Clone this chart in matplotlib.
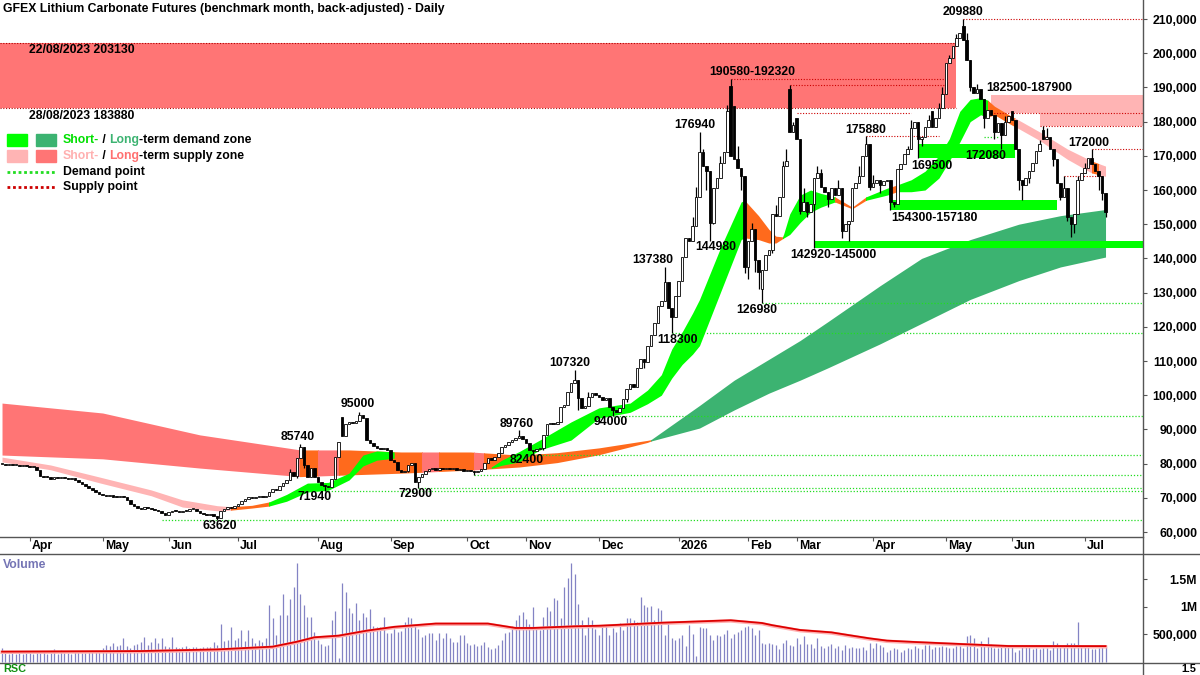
import matplotlib.pyplot as plt
from matplotlib.lines import Line2D
from matplotlib.patches import Rectangle
from matplotlib.ticker import FixedLocator, FuncFormatter

plt.rcParams['font.family'] = ['Liberation Sans', 'DejaVu Sans']
plt.rcParams['font.weight'] = 'bold'

TITLE = "GFEX Lithium Carbonate Futures (benchmark month, back-adjusted) - Daily"

# ---- data: prices in thousand yuan/t, one entry per trading day ----
month_labels = ['Apr', 'May', 'Jun', 'Jul', 'Aug', 'Sep', 'Oct', 'Nov', 'Dec',
                '2026', 'Feb', 'Mar', 'Apr', 'May', 'Jun', 'Jul']
# trading days per month (first entry = end of March 2025)
month_days = [8, 21, 19, 20, 23, 21, 22, 17, 21, 23, 20, 14, 22, 21, 19, 21, 7]

closes = [
    # Mar 2025
    80.0, 79.6, 79.8, 79.5, 79.7, 79.4, 79.6, 79.2,
    # Apr
    79.0, 79.1, 78.0, 76.4, 76.2, 76.0, 75.6, 76.1, 75.9, 76.2, 75.8, 75.6,
    75.9, 75.2, 74.6, 74.0, 73.4, 72.8, 72.4, 71.8, 71.2,
    # May
    70.8, 70.5, 70.9, 70.3, 70.1, 70.6, 70.2, 69.5, 68.2, 67.5, 67.0, 66.8,
    67.4, 67.0, 66.6, 66.3, 66.0, 65.6, 65.0,
    # Jun
    65.8, 66.2, 66.0, 65.8, 66.1, 66.0, 66.6, 66.8, 66.0, 65.6, 65.3, 65.1,
    65.4, 64.8, 64.2, 66.2, 66.8, 67.2, 67.0, 67.6,
    # Jul
    68.3, 69.0, 69.6, 70.2, 69.9, 70.3, 70.5, 70.2, 70.6, 71.6, 72.6, 72.2,
    73.5, 74.4, 75.2, 77.5, 76.5, 81.5, 85.0, 79.5, 76.0, 78.6, 76.2,
    # Aug
    74.5, 73.8, 73.5, 73.2, 75.5, 81.8, 86.3, 88.2, 91.5, 92.2, 91.8, 92.5,
    94.3, 93.4, 87.0, 86.0, 85.2, 84.6, 84.2, 84.6, 84.0,
    # Sep
    81.0, 80.6, 78.0, 77.6, 77.8, 79.6, 80.2, 74.5, 76.2, 77.0, 77.8, 78.4,
    78.8, 78.2, 78.6, 78.3, 78.8, 78.4, 78.7, 78.2, 78.5, 77.9,
    # Oct
    78.2, 77.8, 77.4, 77.9, 78.5, 80.2, 81.5, 81.2, 81.8, 83.0, 84.8, 85.4,
    86.2, 86.9, 87.5, 88.0, 87.2,
    # Nov
    86.0, 84.0, 83.6, 84.2, 84.6, 88.5, 91.5, 91.8, 91.6, 92.3, 96.5, 97.0,
    101.0, 103.5, 104.5, 99.2, 96.2, 96.8, 99.5, 100.5, 100.0,
    # Dec
    99.6, 98.5, 99.2, 96.6, 95.6, 95.2, 96.2, 99.0, 101.8, 103.4, 102.4, 108.0,
    110.5, 109.6, 114.5, 117.5, 121.0, 126.0, 127.5, 133.0, 125.5, 123.0, 129.0,
    # Jan 2026
    133.5, 140.5, 146.0, 145.0, 149.5, 158.0, 171.0, 167.0, 165.5, 150.5,
    160.5, 163.5, 168.0, 171.0, 183.0, 170.0, 169.0, 166.5, 164.0, 137.5,
    # Feb
    145.0, 148.5, 139.5, 136.0, 136.5, 141.0, 142.5, 153.0, 152.5, 158.0,
    167.0, 168.5, 177.0, 179.0,
    # Mar
    175.0, 154.0, 156.5, 153.5, 156.0, 163.5, 165.0, 161.0, 159.5, 157.5,
    160.5, 158.5, 160.5, 148.0, 150.0, 151.0, 160.5, 162.0, 164.0, 170.0,
    173.5, 161.0,
    # Apr
    162.0, 163.0, 161.5, 162.5, 163.0, 156.5, 156.0, 166.0, 167.5, 170.5,
    172.0, 178.0, 180.0, 175.0, 175.5, 178.5, 180.5, 178.5, 181.0, 184.0, 188.0,
    # May
    197.0, 198.5, 202.0, 204.5, 206.0, 204.0, 198.0, 190.0, 188.5, 189.5,
    186.5, 181.0, 183.5, 182.0, 177.0, 179.5, 176.0, 180.0, 181.5,
    # Jun
    180.5, 172.0, 163.0, 161.5, 163.5, 165.5, 168.0, 171.5, 173.5, 175.0,
    175.5, 172.0, 169.0, 162.0, 158.0, 160.5, 152.0, 150.0, 153.0, 163.0, 165.0,
    # Jul
    166.5, 169.5, 167.5, 165.5, 164.0, 159.0, 153.5,
]

# opens that gap away from the previous close
gap_opens = {98: 93.6, 210: 190.5, 211: 184.5, 219: 131.0, 227: 189.5,
             229: 181.0, 268: 183.0, 277: 208.0, 291: 183.0, 300: 177.5}
# wick ends (bars not listed have no visible wick)
highs = {83: 78.5, 86: 85.74, 103: 95.0, 105: 90.7, 114: 80.2, 149: 89.76,
         165: 107.32, 169: 101.0, 191: 137.38, 199: 152.0, 200: 161.0,
         201: 176.94, 202: 172.0, 207: 170.0, 209: 185.0, 210: 192.32,
         212: 173.0, 216: 150.5, 223: 155.5, 225: 168.5, 226: 172.0,
         227: 190.58, 228: 180.0, 231: 160.5, 235: 167.0, 236: 166.0,
         241: 163.0, 247: 167.0, 249: 175.88, 251: 164.5, 261: 173.0,
         262: 180.5, 267: 182.0, 270: 185.5, 271: 190.0, 273: 199.5,
         275: 205.5, 277: 209.88, 278: 206.0, 281: 191.0, 289: 181.5,
         292: 175.0, 299: 174.6, 300: 178.7, 301: 178.0, 306: 164.0,
         310: 164.0, 312: 168.0, 314: 172.0}
lows = {62: 63.62, 85: 75.8, 87: 78.7, 93: 71.94, 96: 77.2, 99: 89.0,
        117: 77.5, 120: 72.9, 136: 76.8, 144: 83.0, 153: 82.4, 156: 84.0,
        161: 92.5, 163: 97.5, 166: 95.7, 176: 94.0, 180: 98.0, 185: 108.0,
        189: 121.0, 193: 118.3, 196: 137.0, 200: 154.0, 203: 160.0,
        204: 144.98, 205: 150.0, 209: 176.0, 213: 160.0, 214: 135.7,
        215: 134.0, 217: 136.0, 218: 131.0, 219: 126.98, 220: 138.0,
        222: 141.6, 225: 160.0, 230: 153.0, 232: 152.0, 234: 142.92,
        238: 155.0, 242: 146.0, 244: 145.0, 245: 156.0, 250: 160.0,
        253: 159.0, 256: 154.3, 257: 155.0, 258: 156.0, 264: 169.5,
        265: 173.0, 272: 189.0, 279: 189.0, 283: 178.0, 286: 175.0,
        288: 172.08, 293: 160.0, 294: 157.0, 296: 162.0, 303: 167.0,
        305: 157.0, 307: 151.0, 308: 146.3, 309: 147.4, 316: 160.0,
        317: 157.0, 318: 152.0}

# volume in thousand lots
volume = [
    250, 150, 145, 150, 140, 150, 135, 150,
    160, 140, 175, 150, 165, 140, 150, 220, 145, 215, 160, 150, 145, 165,
    170, 150, 160, 165, 175, 180, 170,
    240, 300, 290, 330, 280, 300, 420, 280, 240, 300, 310, 360, 450, 300,
    360, 420, 330, 420, 280,
    260, 440, 270, 240, 260, 280, 250, 260, 270, 250, 260, 265, 270, 360,
    300, 690, 380, 390, 630, 400,
    420, 570, 380, 570, 420, 330, 390, 360, 420, 1030, 785, 480, 845, 1230,
    850, 1140, 1350, 1785, 1230, 1030, 815, 815, 540,
    390, 320, 290, 300, 750, 920, 60, 1420, 1270, 970, 890, 1060, 750, 875,
    815, 950, 645, 630, 630, 815, 520,
    510, 600, 540, 560, 725, 815, 800, 690, 600, 450, 480, 510, 510, 390,
    510, 420, 510, 420, 360, 360, 480, 480,
    330, 300, 320, 280, 300, 360, 270, 220, 240, 300, 390, 510, 540, 645,
    750, 845, 900,
    770, 690, 985, 630, 570, 815, 1000, 925, 1150, 1120, 785, 1360, 1510,
    1785, 1600, 1040, 750, 480, 815, 750, 600,
    482, 664, 664, 482, 603, 542, 694, 573, 785, 785, 754, 724, 1179, 1027,
    985, 1009, 754, 967, 936, 482, 694, 421, 391,
    421, 482, 282, 664, 494, 100, 621, 615, 603, 482, 391, 482, 464, 500,
    573, 421, 494, 542, 573, 633,
    645, 603, 482, 573, 330, 312, 342, 312, 300, 221, 330, 391, 300, 282,
    421, 318, 464, 312, 312, 251, 421, 282, 251, 282, 312, 239, 282, 209,
    300, 239, 270, 239, 239, 270, 209, 342,
    240, 330, 300, 270, 180, 209, 239, 220, 179, 209, 239, 220, 282, 239,
    225, 300, 300, 220, 270, 270, 282,
    270, 250, 240, 282, 282, 239, 465, 482, 421, 239, 373, 300, 440, 312,
    239, 239, 282, 270, 270,
    270, 180, 210, 280, 270, 280, 220, 240, 220, 240, 240, 210, 375, 340,
    280, 280, 340, 340, 330, 725, 300,
    290, 270, 230, 220, 250, 260, 280,
]
# volume moving average, read at (bar, value)
vol_ma = [(0, 180), (40, 190), (62, 220), (78, 270), (85, 360), (90, 440),
          (97, 470), (105, 560), (113, 630), (125, 690), (140, 690),
          (148, 610), (153, 610), (165, 640), (172, 650), (190, 705),
          (210, 750), (219, 700), (222, 660), (230, 573), (239, 530),
          (244, 480), (250, 421), (255, 380), (263, 355), (272, 330),
          (283, 300), (290, 282), (318, 280)]

# short-term band edges (bar, top, bottom), two pieces
short_band_a = [(0, 81.9, 80.5), (14, 79.6, 78.2), (28, 76.1, 74.4),
                (43, 72.3, 70.6), (52, 69.4, 67.3), (62, 67.7, 66.2),
                (66, 67.4, 66.4), (72, 67.8, 67.0), (77, 68.8, 67.6),
                (82, 71.0, 69.0), (88, 74.3, 71.7), (94, 74.5, 72.2),
                (100, 77.2, 75.2), (104, 82.5, 79.3), (108, 83.7, 81.0),
                (113, 83.4, 81.6)]
short_band_b = [(141, 79.0, 78.6), (144, 81.0, 79.5), (149, 83.5, 80.5),
                (155, 86.9, 84.0), (164, 92.2, 86.9), (172, 96.3, 93.3),
                (181, 97.7, 95.0), (186, 101.5, 97.5), (190, 106.0, 100.0),
                (193, 113.5, 105.0), (196, 118.5, 109.0), (199, 124.0, 112.0),
                (201, 128.0, 114.5), (207, 143.0, 130.0), (213, 156.5, 145.5),
                (214, 157.0, 146.0), (218, 152.5, 145.5), (221, 148.5, 144.5),
                (223, 146.5, 144.5), (225, 146.3, 145.8), (227, 153.0, 147.0),
                (230, 158.5, 150.5), (233, 160.0, 153.5), (236, 159.0, 155.0),
                (240, 158.0, 156.5), (245, 155.0, 154.5), (249, 158.0, 157.0),
                (255, 160.5, 158.5), (258, 161.5, 159.5), (262, 163.0, 159.5),
                (266, 165.5, 160.0), (270, 170.0, 163.5), (273, 175.0, 168.5),
                (276, 183.0, 174.0), (279, 186.5, 180.0), (282, 187.0, 182.0),
                (284, 186.3, 181.3), (286, 184.5, 182.0), (291, 181.5, 179.0),
                (292, 181.0, 178.5), (299, 177.0, 174.5), (307, 172.0, 169.0),
                (314, 168.5, 165.0), (318, 167.0, 164.0)]
short_colours_a = [(0, 66, 'pink'), (66, 77, 'orange'), (77, 113, 'green')]
short_colours_b = [(141, 214, 'green'), (214, 225, 'orange'),
                   (225, 240, 'green'), (240, 249, 'orange'),
                   (249, 256, 'green'), (256, 258, 'orange'),
                   (258, 284, 'green'), (284, 292, 'orange'),
                   (292, 314, 'pink'), (314, 316, 'orange'), (316, 318, 'pink')]

# long-term band edges (bar, top, bottom)
long_band = [(0, 97.7, 82.5), (29, 94.8, 81.4), (57, 88.4, 78.7),
             (86, 84.0, 76.2), (100, 84.0, 76.7), (115, 83.4, 77.2),
             (135, 83.4, 78.1), (149, 82.5, 79.0), (160, 83.2, 80.3),
             (172, 84.6, 82.6), (186, 86.8, 86.2), (187, 87.0, 86.6),
             (201, 97.0, 90.4), (211, 104.4, 95.7), (221, 110.5, 100.6),
             (230, 116.0, 104.4), (238, 121.5, 108.0), (253, 132.0, 115.0),
             (265, 140.0, 121.0), (279, 145.5, 128.0), (293, 150.0, 133.5),
             (305, 152.5, 137.5), (318, 154.3, 140.4)]
long_colours = [(0, 86, 'red'), (86, 91, 'orange'), (91, 97, 'red'),
                (97, 121, 'orange'), (121, 126, 'red'), (126, 136, 'orange'),
                (136, 139, 'red'), (139, 187, 'orange'), (187, 318, 'dkgreen')]

# supply / demand zones (start bar, end bar or None, low, high)
long_supply_zone = (None, 275, 183.88, 203.13)
short_supply_zones = [(285, None, 182.5, 187.9), (299, None, 178.7, 182.5)]
demand_zones = [(234, None, 142.92, 145.0), (256, 304, 154.3, 157.18),
                (264, 292, 169.5, 173.6)]
demand_points = [(46, None, 63.62), (93, None, 71.94), (120, None, 72.9),
                 (136, None, 76.8), (153, None, 82.4), (176, None, 94.0),
                 (193, None, 118.3), (219, None, 126.98), (283, 287, 175.6)]
supply_points = [(277, None, 209.88), (210, 272, 192.32), (227, 272, 190.58),
                 (229, 262, 182.5), (249, 270, 175.88), (314, None, 172.0),
                 (306, 317, 164.1), (285, None, 182.5), (299, None, 178.7)]

# labels: text, bar, price, text offset in pixels
labels = [("209880", 277, 209.88, 0, 7), ("190580-192320", 210, 192.32, 22, 7),
          ("182500-187900", 285, 187.9, 38, 7), ("176940", 201, 176.94, -5, 7),
          ("175880", 249, 175.88, 0, 6), ("172000", 314, 172.0, -3, 6),
          ("169500", 264, 169.5, 14, -8), ("172080", 288, 172.08, -16, -7),
          ("154300-157180", 256, 154.3, 44, -8),
          ("142920-145000", 234, 142.92, 19, -7), ("144980", 204, 144.98, 6, -6),
          ("137380", 191, 137.38, -12, 7), ("126980", 219, 126.98, -5, -7),
          ("118300", 193, 118.3, 6, -7), ("107320", 165, 107.32, -5, 7),
          ("94000", 176, 94.0, -2, -6), ("89760", 149, 89.76, -2, 6),
          ("82400", 153, 82.4, -6, -5), ("95000", 103, 95.0, -2, 8),
          ("85740", 86, 85.74, -3, 7), ("71940", 93, 71.94, -10, -6),
          ("72900", 120, 72.9, -3, -6), ("63620", 62, 63.62, 3, -6)]

# ---- styles / layout ----
W, H = 1200, 675
FS = 8.8
COL = {'pink': '#ffb4b4', 'red': '#ff7575', 'orange': '#ff6a1c',
       'green': '#00ff00', 'dkgreen': '#3cb371'}
XMIN, XMAX = -0.58, 328.8


def rect(x0, y0, x1, y1):
    return [x0 / W, 1 - y1 / H, (x1 - x0) / W, (y1 - y0) / H]


fig = plt.figure(figsize=(W / 100, H / 100), dpi=100)
ax = fig.add_axes(rect(0, 0, 1143, 537))
ax_m = fig.add_axes(rect(0, 537, 1143, 554))
ax_v = fig.add_axes(rect(0, 554, 1143, 663))
ax_r = fig.add_axes(rect(0, 663, 1143, 675))

for a in (ax, ax_m, ax_v, ax_r):
    a.set_xlim(XMIN, XMAX)
    for s in a.spines.values():
        s.set_visible(False)
    a.tick_params(axis='x', bottom=False, labelbottom=False)

ax.set_ylim(58.54, 215.56)


def draw_band(samples, colours, z):
    xs = [s[0] for s in samples]
    tops = [s[1] for s in samples]
    bots = [s[2] for s in samples]
    for c0, c1, name in colours:
        poly = ax.fill_between(xs, bots, tops, color=COL[name], lw=0, zorder=z)
        poly.set_clip_path(Rectangle((c0, 0), c1 - c0, 1000,
                                     transform=ax.transData))


# zones behind the bands
s0, s1, lo, hi = long_supply_zone
ax.add_patch(Rectangle((XMIN, lo), s1 - XMIN, hi - lo, color=COL['red'],
                       lw=0, zorder=1))
for v in (lo, hi):
    ax.hlines(v, XMIN, s1, colors='#b00000', linestyles=(0, (1, 1.5)),
              lw=0.8, zorder=2)
for s0, s1, lo, hi in short_supply_zones:
    ax.add_patch(Rectangle((s0, lo), (s1 or XMAX) - s0, hi - lo,
                           color=COL['pink'], lw=0, zorder=1))

draw_band(long_band, long_colours, 2)
draw_band(short_band_a, short_colours_a, 3)
draw_band(short_band_b, short_colours_b, 3)

for s0, s1, lo, hi in demand_zones:
    ax.add_patch(Rectangle((s0, lo), (s1 or XMAX) - s0, hi - lo,
                           color=COL['green'], lw=0, zorder=4))
for s0, s1, v in demand_points:
    ax.hlines(v, s0, s1 or XMAX, colors='#22dd22', linestyles=(0, (1, 1.5)),
              lw=0.9, zorder=4)
for s0, s1, v in supply_points:
    ax.hlines(v, s0, s1 or XMAX, colors='#cc0000', linestyles=(0, (1, 1.5)),
              lw=0.8, zorder=4)

# candles
opens = [closes[0]] + closes[:-1]
for i, g in gap_opens.items():
    opens[i] = g
for i, (o, c) in enumerate(zip(opens, closes)):
    hi = highs.get(i, max(o, c))
    lo = lows.get(i, min(o, c))
    if hi > max(o, c) or lo < min(o, c):
        ax.vlines(i, lo, hi, colors='black', lw=0.9, zorder=6)
    face = 'white' if c >= o else 'black'
    ax.add_patch(Rectangle((i - 0.37, min(o, c)), 0.74, max(abs(c - o), 0.3),
                           facecolor=face, edgecolor='black', lw=0.6, zorder=7))

for text, bar, price, dx, dy in labels:
    ax.annotate(text, xy=(bar, price), xytext=(dx, dy),
                textcoords='offset pixels', ha='center', va='center',
                fontsize=FS, fontweight='bold', zorder=8)

# price axis
ax.yaxis.tick_right()
ax.yaxis.set_major_locator(FixedLocator(range(60, 211, 10)))
ax.yaxis.set_major_formatter(FuncFormatter(lambda v, p: f"{int(v * 1000):,}"))
ax.tick_params(axis='y', length=3, width=0.8, color='#555555', pad=36,
               labelsize=FS)
for t in ax.get_yticklabels():
    t.set_horizontalalignment('right')

# month strip
ax_m.set_ylim(0, 1)
ax_m.set_yticks([])
start = 0
for n, name in zip(month_days[:-1], month_labels):
    start += n
    ax_m.vlines(start, 0.78, 1.0, colors='#555555', lw=0.8)
    ax_m.text(start + 0.6, 0.45, name, ha='left', va='center', fontsize=FS,
              fontweight='bold')

# volume panel
ax_v.set_ylim(-27, 1955)
ax_v.vlines(range(len(volume)), 0, volume, colors='#8383c4', lw=0.9)
mx = [p[0] for p in vol_ma]
my = [p[1] for p in vol_ma]
ax_v.plot(mx, [v - 12 for v in my], color='#ffb0b0', lw=2.5)
ax_v.plot(mx, my, color='#dd0000', lw=1.3)
ax_v.yaxis.tick_right()
ax_v.yaxis.set_major_locator(FixedLocator([500, 1000, 1500]))
ax_v.yaxis.set_major_formatter(FuncFormatter(
    lambda v, p: {500: '500,000', 1000: '1M', 1500: '1.5M'}.get(int(v), '')))
ax_v.tick_params(axis='y', length=3, width=0.8, color='#555555', pad=36,
                 labelsize=FS)
for t in ax_v.get_yticklabels():
    t.set_horizontalalignment('right')
ax_v.text(3 / 1143, 0.9, 'Volume', transform=ax_v.transAxes, color='#7474b4',
          fontsize=FS, fontweight='bold', va='center')

# RSC panel (only its top edge is visible)
ax_r.set_ylim(0, 1)
ax_r.set_yticks([])
fig.text(3 / W, 1 - 669.5 / H, 'RSC', color='#109010', fontsize=FS - 1,
         fontweight='bold', va='center')
fig.text(1196 / W, 1 - 669.5 / H, '1.5', fontsize=FS - 1, fontweight='bold',
         ha='right', va='center')

# frame lines
for x0, y0, x1, y1 in [(1143, 0, 1143, 675), (0, 537, 1143, 537),
                       (0, 554, 1200, 554), (0, 663, 1200, 663)]:
    fig.add_artist(Line2D([x0 / W, x1 / W], [1 - y0 / H, 1 - y1 / H],
                          color='#555555', lw=1.0))

# title and zone notes
fig.text(3 / W, 1 - 9 / H, TITLE, fontsize=FS, fontweight='bold', va='center')
fig.text(29 / W, 1 - 50 / H, '22/08/2023 203130', fontsize=FS,
         fontweight='bold', va='center')
fig.text(29 / W, 1 - 116 / H, '28/08/2023 183880', fontsize=FS,
         fontweight='bold', va='center')

# legend
for y, c1, c2 in [(134, COL['green'], COL['dkgreen']),
                  (150, COL['pink'], COL['red'])]:
    fig.add_artist(Rectangle((7 / W, 1 - (y + 12) / H), 20 / W, 12 / H,
                             color=c1, transform=fig.transFigure))
    fig.add_artist(Rectangle((36 / W, 1 - (y + 12) / H), 20 / W, 12 / H,
                             color=c2, transform=fig.transFigure))
legend_rows = [
    (140, [("Short-", '#00e000'), (" / ", 'black'), ("Long", '#3cb371'),
           ("-term demand zone", 'black')]),
    (156, [("Short-", '#ffb0b0'), (" / ", 'black'), ("Long", '#ff7070'),
           ("-term supply zone", 'black')]),
    (172, [("Demand point", 'black')]),
    (187, [("Supply point", 'black')]),
]
for y, parts in legend_rows:
    t = fig.text(63 / W, 1 - y / H, parts[0][0], color=parts[0][1],
                 fontsize=FS, fontweight='bold', va='center')
    for s, c in parts[1:]:
        t = ax.annotate(s, xy=(1, 0.5), xycoords=t, ha='left', va='center',
                        color=c, fontsize=FS, fontweight='bold')
for y, c in [(172, '#22dd22'), (187, '#cc0000')]:
    fig.add_artist(Line2D([7 / W, 55 / W], [1 - y / H, 1 - y / H], color=c,
                          lw=2, linestyle=(0, (1, 1))))

fig.savefig('out.png', dpi=100, facecolor='white')
